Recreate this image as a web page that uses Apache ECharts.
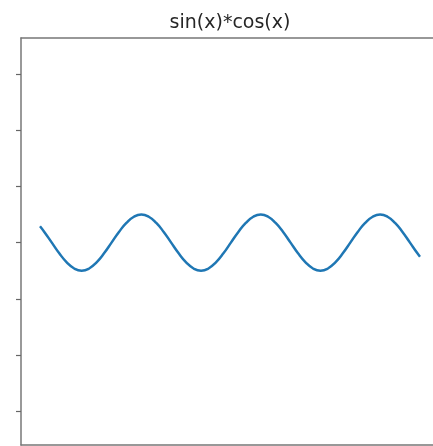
<!DOCTYPE html>
<html>
<head>
<meta charset="utf-8">
<script src="https://cdn.jsdelivr.net/npm/echarts@6/dist/echarts.min.js"></script>
<style>
  html, body { margin: 0; padding: 0; background: #fff; }
  #chart { width: 433px; height: 446px; }
</style>
</head>
<body>
<div id="chart"></div>
<script>
// values
const xs = [1.26, 1.374, 1.571, 1.767, 1.963, 2.160, 2.356, 2.553, 2.749, 2.945,
  3.142, 3.338, 3.534, 3.731, 3.927, 4.123, 4.320, 4.516, 4.712, 4.909,
  5.105, 5.301, 5.498, 5.694, 5.890, 6.087, 6.283, 6.480, 6.676, 6.872,
  7.069, 7.265, 7.461, 7.658, 7.854, 8.050, 8.247, 8.443, 8.639, 8.836,
  9.032, 9.228, 9.425, 9.621, 9.817, 10.014, 10.210, 10.407, 10.603, 10.799,
  10.996, 11.192, 11.26]
const ys = [0.29, 0.19, 0, -0.19, -0.35, -0.46, -0.5, -0.46, -0.35, -0.19,
  0, 0.19, 0.35, 0.46, 0.5, 0.46, 0.35, 0.19, 0, -0.19,
  -0.35, -0.46, -0.5, -0.46, -0.35, -0.19, 0, 0.19, 0.35, 0.46,
  0.5, 0.46, 0.35, 0.19, 0, -0.19, -0.35, -0.46, -0.5, -0.46,
  -0.35, -0.19, 0, 0.19, 0.35, 0.46, 0.5, 0.46, 0.35, 0.19,
  0, -0.19, -0.25]
const yTicks = [-3, -2, -1, 0, 1, 2, 3]

const spine = { color: '#777', width: 1.5 }

const chart = echarts.init(document.getElementById('chart'))

chart.setOption({
  animation: false,
  graphic: [
    {
      type: 'text',
      x: 230,
      y: 14,
      style: {
        text: 'sin(x)*cos(x)',
        textAlign: 'center',
        fontFamily: 'DejaVu Sans',
        fontSize: 19,
        fill: '#262626'
      }
    }
  ],
  grid: {
    left: 21,
    top: 38,
    width: 418,
    bottom: 1,
    outerBoundsMode: 'none',
    containLabel: false
  },
  xAxis: [
    {
      type: 'value',
      min: 0.76,
      max: 11.76,
      axisLine: { show: true, onZero: false, lineStyle: spine },
      axisTick: { show: false },
      axisLabel: { show: false },
      splitLine: { show: false }
    },
    {
      type: 'value',
      position: 'top',
      min: 0.76,
      max: 11.76,
      axisLine: { show: true, onZero: false, lineStyle: spine },
      axisTick: { show: false },
      axisLabel: { show: false },
      splitLine: { show: false }
    }
  ],
  yAxis: {
    type: 'value',
    min: -3.6,
    max: 3.64,
    axisLine: { show: true, onZero: false, lineStyle: spine },
    axisTick: {
      show: true,
      length: 5,
      customValues: yTicks,
      lineStyle: { color: '#666', width: 1.2 }
    },
    axisLabel: { show: false },
    splitLine: { show: false }
  },
  series: [
    {
      type: 'line',
      data: xs.map((x, i) => [x, ys[i]]),
      smooth: true,
      showSymbol: false,
      lineStyle: { color: '#1f77b4', width: 2.5 }
    }
  ]
})
</script>
</body>
</html>
